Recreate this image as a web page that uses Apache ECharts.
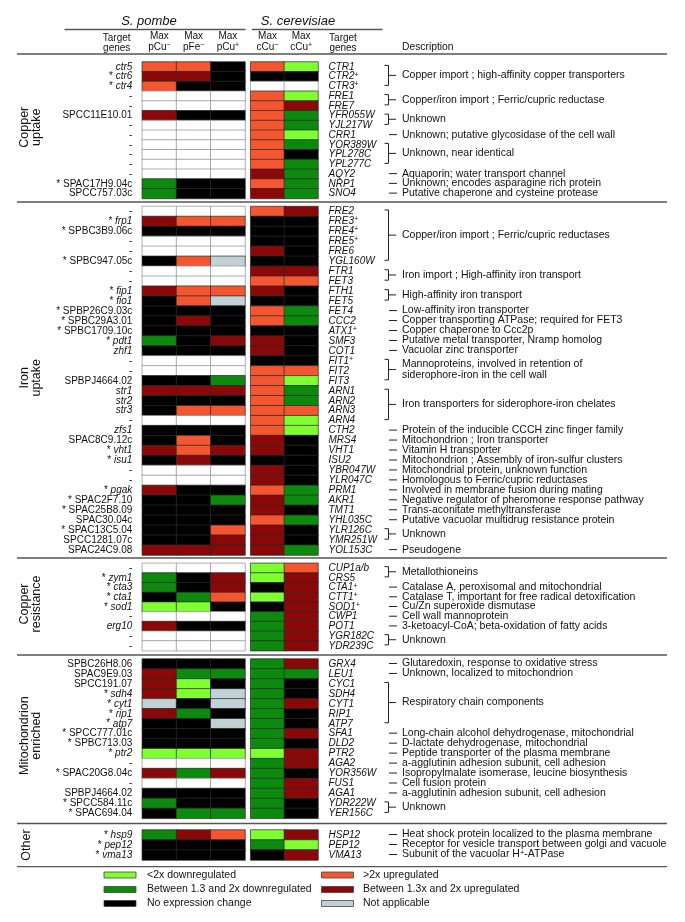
<!DOCTYPE html>
<html><head><meta charset="utf-8">
<script src="https://cdn.jsdelivr.net/npm/echarts@6/dist/echarts.min.js"></script>
<style>html,body{margin:0;padding:0;background:#fff}#c{width:685px;height:922px}</style>
</head><body><div id="c"></div>
<script>
// ---------------- DATA ----------------
// codes: L <2x down, G 1.3-2x down, K no change, O >2x up, R 1.3-2x up, N not applicable, W no ortholog
const pombeColumns = ['Max pCu^-', 'Max pFe^-', 'Max pCu^+'];
const cerevColumns = ['Max cCu^-', 'Max cCu^+'];
const sectionNames = ['Copper\nuptake', 'Iron\nuptake', 'Copper\nresistance', 'Mitochondrion\nenriched', 'Other'];

const cuUptakePombeGenes = ['ctr5','* ctr6','* ctr4','-','-','SPCC11E10.01','-','-','-','-','-','-','* SPAC17H9.04c','SPCC757.03c'];
const cuUptakePombe = ['OOK','RRK','OKK','WWW','WWW','RKK','WWW','WWW','WWW','WWW','WWW','WWW','GKK','GKK'];
const cuUptakeCerevGenes = ['CTR1','CTR2^+','CTR3^+','FRE1','FRE7','YFR055W','YJL217W','CRR1','YOR389W','YPL278C','YPL277C','AQY2','NRP1','SNO4'];
const cuUptakeCerev = ['OL','KK','WW','OL','OR','OG','OG','OL','OG','OK','OG','RG','OG','RG'];
const cuUptakeDesc = [[0,2,'Copper import ; high-affinity copper transporters'],[3,4,'Copper/iron import ; Ferric/cupric reductase'],[5,6,'Unknown'],[7,7,'Unknown; putative glycosidase of the cell wall'],[8,10,'Unknown, near identical'],[11,11,'Aquaporin; water transport channel'],[12,12,'Unknown; encodes asparagine rich protein'],[13,13,'Putative chaperone and cysteine protease']];

const feUptakePombeGenes = ['-','* frp1','* SPBC3B9.06c','-','-','* SPBC947.05c','-','-','* fip1','* fio1','* SPBP26C9.03c','* SPBC29A3.01','* SPBC1709.10c','* pdt1','zhf1','-','-','SPBPJ4664.02','str1','str2','str3','-','zfs1','SPAC8C9.12c','* vht1','* isu1','-','-','* pgak','* SPAC2F7.10','* SPAC25B8.09','SPAC30.04c','* SPAC13C5.04','SPCC1281.07c','SPAC24C9.08'];
const feUptakePombe = ['WWW','ROO','KKK','WWW','WWW','KON','WWW','WWW','ROO','KON','KKK','KRK','KKK','GKR','KKK','WWW','WWW','KKG','RRR','KKK','KOO','WWW','KKK','KOK','ROR','KRK','WWW','WWW','RKK','KKG','KKK','KKK','KKO','KKR','RRR'];
const feUptakeCerevGenes = ['FRE2','FRE3^+','FRE4^+','FRE5^+','FRE6','YGL160W','FTR1','FET3','FTH1','FET5','FET4','CCC2','ATX1^+','SMF3','COT1','FIT1^+','FIT2','FIT3','ARN1','ARN2','ARN3','ARN4','CTH2','MRS4','VHT1','ISU2','YBR047W','YLR047C','PRM1','AKR1','TMT1','YHL035C','YLR126C','YMR251W','YOL153C'];
const feUptakeCerev = ['OR','KK','KK','KK','RK','KK','RR','OO','RK','KK','OG','OG','KK','RK','RK','KK','OO','OL','OG','OG','OO','OL','OL','RK','RK','KK','RK','RK','OG','RG','RK','OG','RK','RK','RG'];
const feUptakeDesc = [[0,5,'Copper/iron import ; Ferric/cupric reductases'],[6,7,'Iron import ; High-affinity iron transport'],[8,9,'High-affinity iron transport'],[10,10,'Low-affinity iron transporter'],[11,11,'Copper transporting ATPase; required for FET3'],[12,12,'Copper chaperone to Ccc2p'],[13,13,'Putative metal transporter, Nramp homolog'],[14,14,'Vacuolar zinc transporter'],[15,17,'Mannoproteins, involved in retention of\nsiderophore-iron in the cell wall'],[18,21,'Iron transporters for siderophore-iron chelates'],[22,22,'Protein of the inducible CCCH zinc finger family'],[23,23,'Mitochondrion ; Iron transporter'],[24,24,'Vitamin H transporter'],[25,25,'Mitochondrion ; Assembly of iron-sulfur clusters'],[26,26,'Mitochondrial protein, unknown function'],[27,27,'Homologous to Ferric/cupric reductases'],[28,28,'Involved in membrane fusion during mating'],[29,29,'Negative regulator of pheromone response pathway'],[30,30,'Trans-aconitate methyltransferase'],[31,31,'Putative vacuolar multidrug resistance protein'],[32,33,'Unknown'],[34,34,'Pseudogene']];

const cuResPombeGenes = ['-','* zym1','* cta3','* cta1','* sod1','-','erg10','-','-'];
const cuResPombe = ['WWW','GKR','GKR','KGO','LLK','WWW','RKK','WWW','WWW'];
const cuResCerevGenes = ['CUP1a/b','CRS5','CTA1^+','CTT1^+','SOD1^+','CWP1','POT1','YGR182C','YDR239C'];
const cuResCerev = ['LO','LR','KR','LR','KR','GR','GR','GR','GR'];
const cuResDesc = [[0,1,'Metallothioneins'],[2,2,'Catalase A, peroxisomal and mitochondrial'],[3,3,'Catalase T, important for free radical detoxification'],[4,4,'Cu/Zn superoxide dismutase'],[5,5,'Cell wall mannoprotein'],[6,6,'3-ketoacyl-CoA; beta-oxidation of fatty acids'],[7,8,'Unknown']];

const mitoPombeGenes = ['SPBC26H8.06','SPAC9E9.03','SPCC191.07','* sdh4','* cyt1','* rip1','* atp7','* SPCC777.01c','* SPBC713.03','* ptr2','-','* SPAC20G8.04c','-','SPBPJ4664.02','* SPCC584.11c','* SPAC694.04'];
const mitoPombe = ['KKK','RGG','RLK','RLN','NKN','RGK','KKN','KKK','KKK','LLL','WWW','RGR','WWW','KKK','GKK','KGG'];
const mitoCerevGenes = ['GRX4','LEU1','CYC1','SDH4','CYT1','RIP1','ATP7','SFA1','DLD2','PTR2','AGA2','YOR356W','FUS1','AGA1','YDR222W','YER156C'];
const mitoCerev = ['GR','GG','GK','GK','GR','GK','GK','GR','GK','LR','GR','GK','GR','GR','GK','GK'];
const mitoDesc = [[0,0,'Glutaredoxin, response to oxidative stress'],[1,1,'Unknown, localized to mitochondrion'],[2,6,'Respiratory chain components'],[7,7,'Long-chain alcohol dehydrogenase, mitochondrial'],[8,8,'D-lactate dehydrogenase, mitochondrial'],[9,9,'Peptide transporter of the plasma membrane'],[10,10,'a-agglutinin adhesion subunit, cell adhesion'],[11,11,'Isopropylmalate isomerase, leucine biosynthesis'],[12,12,'Cell fusion protein'],[13,13,'a-agglutinin adhesion subunit, cell adhesion'],[14,15,'Unknown']];

const otherPombeGenes = ['* hsp9','* pep12','* vma13'];
const otherPombe = ['GRO','KKK','KKK'];
const otherCerevGenes = ['HSP12','PEP12','VMA13'];
const otherCerev = ['LR','GL','KR'];
const otherDesc = [[0,0,'Heat shock protein localized to the plasma membrane'],[1,1,'Receptor for vesicle transport between golgi and vacuole'],[2,2,'Subunit of the vacuolar H^+-ATPase']];

const legendItems = [['L','<2x downregulated'],['O','>2x upregulated'],['G','Between 1.3 and 2x downregulated'],['R','Between 1.3x and 2x upregulated'],['K','No expression change'],['N','Not applicable']];

// ---------------- STYLE / LAYOUT ----------------
const FONT = "'Liberation Sans', Arial, Helvetica, sans-serif";
const COLORS = {L:'#80FF30', G:'#0B8A0E', K:'#000000', O:'#F4562F', R:'#8B0808', N:'#C2D1D5', W:'#FFFFFF'};
const codeKeys = ['L','G','K','O','R','N','W'];
const LAYOUT = [{top:62, h:9.75}, {top:206.5, h:9.96}, {top:563.3, h:9.71}, {top:659, h:9.96}, {top:830, h:10}];
const P_LEFT = 142.3, P_W = 102.7, C_LEFT = 250.7, C_W = 67.3;
const SEP_Y = [54, 202, 558, 655, 823.5, 866.7];

const sections = [
  {p:cuUptakePombeGenes, pv:cuUptakePombe, c:cuUptakeCerevGenes, cv:cuUptakeCerev, d:cuUptakeDesc},
  {p:feUptakePombeGenes, pv:feUptakePombe, c:feUptakeCerevGenes, cv:feUptakeCerev, d:feUptakeDesc},
  {p:cuResPombeGenes, pv:cuResPombe, c:cuResCerevGenes, cv:cuResCerev, d:cuResDesc},
  {p:mitoPombeGenes, pv:mitoPombe, c:mitoCerevGenes, cv:mitoCerev, d:mitoDesc},
  {p:otherPombeGenes, pv:otherPombe, c:otherCerevGenes, cv:otherCerev, d:otherDesc}
];

const rich = {
  it: {fontFamily: FONT, fontSize: 10, fontStyle: 'italic', color: '#111', lineHeight: 11},
  rm: {fontFamily: FONT, fontSize: 10, color: '#111', lineHeight: 11},
  sup: {fontFamily: FONT, fontSize: 7, fontStyle: 'italic', color: '#111', verticalAlign: 'top', lineHeight: 11},
  supr: {fontFamily: FONT, fontSize: 7, color: '#111', verticalAlign: 'top', lineHeight: 11},
  d: {fontFamily: FONT, fontSize: 10.5, color: '#111', lineHeight: 11},
  dsup: {fontFamily: FONT, fontSize: 7.5, color: '#111', verticalAlign: 'top', lineHeight: 11}
};
function supify(s, base, supStyle) {
  const parts = s.split(/\^([+\-])/);
  let out = '';
  for (let i = 0; i < parts.length; i++) {
    if (i % 2 === 0) { if (parts[i]) out += '{' + base + '|' + parts[i] + '}'; }
    else out += '{' + supStyle + '|' + (parts[i] === '-' ? '\u2212' : '+') + '}';
  }
  return out;
}
function fmtPombe(g) {
  let star = '';
  if (g.startsWith('* ')) { star = '{rm|* }'; g = g.slice(2); }
  return star + '{' + (/^[a-z]/.test(g) ? 'it' : 'rm') + '|' + g + '}';
}
function fmtCerev(g) { return supify(g, 'it', 'sup'); }
function fmtCol(c) {
  const sp = c.indexOf(' ');
  return '{rm|' + c.slice(0, sp) + '}\n' + supify(c.slice(sp + 1), 'rm', 'supr');
}

const grids = [], xAxes = [], yAxes = [], series = [], graphics = [];
const axisCommon = {axisLine:{show:false}, axisTick:{show:false}, splitLine:{show:false}};
function cellData(vals) {
  const out = [];
  vals.forEach((str, r) => str.split('').forEach((ch, col) => {
    out.push({value: [col, r, codeKeys.indexOf(ch)], itemStyle: ch === 'W' ? {borderColor: '#8c8c8c'} : {borderColor: '#2a2a2a'}});
  }));
  return out;
}
sections.forEach((sec, s) => {
  const L = LAYOUT[s];
  const height = sec.p.length * L.h;
  [[P_LEFT, P_W, pombeColumns, sec.p, sec.pv, 'left'], [C_LEFT, C_W, cerevColumns, sec.c, sec.cv, 'right']].forEach(([left, width, cols, genes, vals, side]) => {
    const gi = grids.length;
    grids.push({left: left, top: L.top, width: width, height: height});
    xAxes.push(Object.assign({gridIndex: gi, type: 'category', data: cols, position: 'top',
      axisLabel: {show: s === 0, interval: 0, margin: 9, formatter: fmtCol, rich: rich, lineHeight: 10}}, axisCommon));
    yAxes.push(Object.assign({gridIndex: gi, type: 'category', inverse: true, data: genes, position: side,
      axisLabel: {interval: 0, margin: side === 'left' ? 10 : 10.5, align: side === 'left' ? 'right' : 'left',
        formatter: (v, i) => side === 'left' ? fmtPombe(genes[i]) : fmtCerev(genes[i]), rich: rich}}, axisCommon));
    series.push({type: 'heatmap', xAxisIndex: gi, yAxisIndex: gi, data: cellData(vals), progressive: 0,
      itemStyle: {borderWidth: 0.7, borderColor: '#2a2a2a'}, emphasis: {disabled: true}, silent: true});
  });
  // descriptions
  const cy = r => L.top + (r + 0.5) * L.h;
  sec.d.forEach(([a, b, txt]) => {
    let ym;
    if (a === b) {
      ym = cy(a) - 0.5;
      graphics.push({type: 'line', shape: {x1: 389, y1: ym, x2: 397, y2: ym}, style: {stroke: '#222', lineWidth: 1}});
    } else {
      const y1 = cy(a) - 1.5, y2 = cy(b) - 1;
      ym = (y1 + y2) / 2;
      graphics.push({type: 'polyline', shape: {points: [[384.5, y1], [388.5, y1], [388.5, y2], [384.5, y2]]}, style: {stroke: '#222', lineWidth: 1, fill: null}});
      graphics.push({type: 'line', shape: {x1: 388.5, y1: ym, x2: 396, y2: ym}, style: {stroke: '#222', lineWidth: 1}});
    }
    const lines = txt.split('\n').map(t => supify(t, 'd', 'dsup')).join('\n');
    graphics.push({type: 'text', x: 402, y: ym, style: {text: lines, rich: rich, align: 'left', verticalAlign: 'middle', fill: '#111'}});
  });
  // section label
  const top = L.top, bot = L.top + height;
  graphics.push({type: 'text', x: sectionNames[s].indexOf('\n') >= 0 ? 31 : 27, y: (top + bot) / 2 - (s === 4 ? 0 : 3), rotation: Math.PI / 2,
    style: {text: sectionNames[s], fontFamily: FONT, fontSize: 12.5, lineHeight: 12, align: 'center', verticalAlign: 'middle', fill: '#111'}});
});

// separators and headers
SEP_Y.forEach(y => graphics.push({type: 'line', shape: {x1: 17, y1: y, x2: 667, y2: y}, style: {stroke: '#555', lineWidth: 1.3}}));
graphics.push({type: 'line', shape: {x1: 64.5, y1: 29.5, x2: 245.6, y2: 29.5}, style: {stroke: '#555', lineWidth: 1.3}});
graphics.push({type: 'line', shape: {x1: 252, y1: 29.5, x2: 382.5, y2: 29.5}, style: {stroke: '#555', lineWidth: 1.3}});
graphics.push({type: 'text', x: 149, y: 21.5, style: {text: 'S. pombe', fontFamily: FONT, fontSize: 13, fontStyle: 'italic', align: 'center', verticalAlign: 'middle', fill: '#111'}});
graphics.push({type: 'text', x: 298, y: 21.5, style: {text: 'S. cerevisiae', fontFamily: FONT, fontSize: 13, fontStyle: 'italic', align: 'center', verticalAlign: 'middle', fill: '#111'}});
graphics.push({type: 'text', x: 116.7, y: 43, style: {text: 'Target\ngenes', fontFamily: FONT, fontSize: 10, lineHeight: 10, align: 'center', verticalAlign: 'middle', fill: '#111'}});
graphics.push({type: 'text', x: 343, y: 43, style: {text: 'Target\ngenes', fontFamily: FONT, fontSize: 10, lineHeight: 10, align: 'center', verticalAlign: 'middle', fill: '#111'}});
graphics.push({type: 'text', x: 402, y: 47, style: {text: 'Description', fontFamily: FONT, fontSize: 10.3, align: 'left', verticalAlign: 'middle', fill: '#111'}});

// legend
const LEG_Y = [875, 889.5, 903.5];
legendItems.forEach(([code, label], i) => {
  const col = i % 2, row = Math.floor(i / 2);
  const sx = col === 0 ? 104 : 321.5, tx = col === 0 ? 147 : 363;
  graphics.push({type: 'rect', shape: {x: sx, y: LEG_Y[row] - 3, width: 32, height: 6}, style: {fill: COLORS[code], stroke: '#444', lineWidth: 0.8}});
  graphics.push({type: 'text', x: tx, y: LEG_Y[row], style: {text: label, fontFamily: FONT, fontSize: 10.5, align: 'left', verticalAlign: 'middle', fill: '#111'}});
});

const chart = echarts.init(document.getElementById('c'), null, {renderer: 'canvas'});
chart.setOption({
  animation: false,
  backgroundColor: '#fff',
  grid: grids, xAxis: xAxes, yAxis: yAxes, series: series,
  visualMap: {type: 'piecewise', show: false, dimension: 2, seriesIndex: series.map((_, i) => i),
    pieces: codeKeys.map((k, i) => ({value: i, color: COLORS[k]}))},
  graphic: graphics
});
</script></body></html>
